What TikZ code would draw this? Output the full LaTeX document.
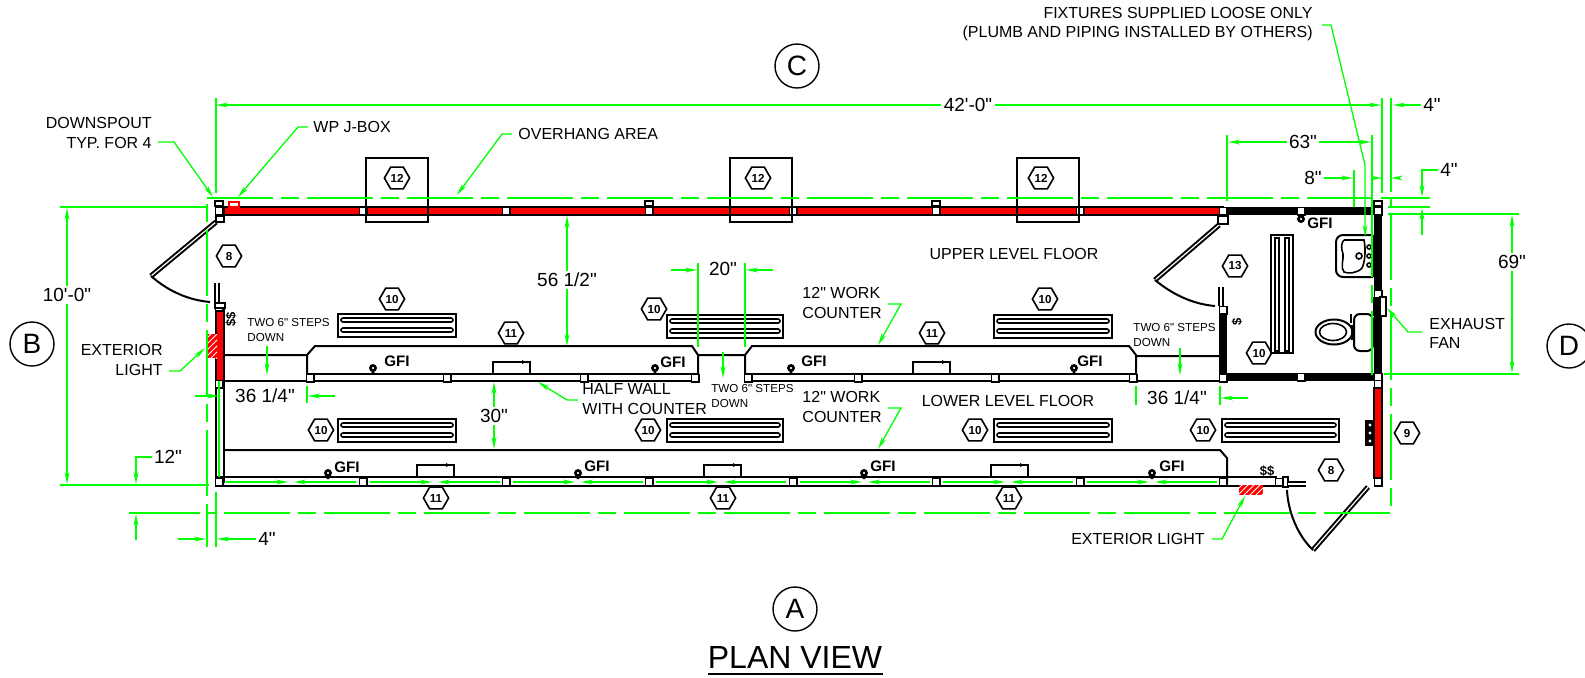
\documentclass[tikz,border=0pt]{standalone}
\usepackage{fontspec}
\setmainfont{Liberation Sans}[Ligatures=TeXOff]
\usetikzlibrary{
	arrows.meta,
	calc,
	patterns,
	shapes.geometric
}
\newcommand{\lblfont}{\fontsize{8}{9.6}\selectfont}
\newcommand{\dimfont}{\fontsize{9.5}{11}\selectfont}
\newcommand{\stepfont}{\fontsize{5.8}{7.2}\selectfont}
\tikzset{
	wall/.style={draw=black, line width=1pt},
	redwall/.style={draw=black, fill=red, line width=.8pt},
	bathwall/.style={draw=black, line width=4pt},
	post/.style={draw=black, fill=white, line width=.9pt, rectangle, minimum size=3.6pt, inner sep=0pt},
	doorleaf/.style={draw=black, double=white, double distance=.6pt, line width=1pt},
	dimline/.style={draw=green, line width=.65pt},
	overhang/.style={draw=green, line width=.75pt, dash pattern=on 33pt off 4pt on 9pt off 4pt},
	lbl/.style={font=\lblfont, inner sep=0pt},
	dimlbl/.style={font=\dimfont, inner sep=1pt},
	steplbl/.style={font=\stepfont, inner sep=0pt, align=left, anchor=west},
	gfi/.style={font=\fontsize{7.6}{9}\selectfont\bfseries, inner sep=0pt},
	tag/.style={draw=black, line width=.8pt, regular polygon, regular polygon sides=6, minimum size=12.6pt, inner sep=0pt, font=\fontsize{5.8}{6}\selectfont\bfseries},
	sheet/.style={draw=black, line width=.7pt, circle, minimum size=22pt, inner sep=0pt, font=\fontsize{14}{16}\selectfont}
}
\begin{document}
\begin{tikzpicture}[x=.5pt, y=-.5pt, >={Stealth[length=6pt,width=2.4pt]}]
	\useasboundingbox (0,0) rectangle (1585,677);
	
	% Outer walls
	\draw[redwall] (224,207) rectangle (1223,215);
	\draw[redwall] (216,307) rectangle (224,381);
	\draw[redwall] (1374,388) rectangle (1382,478);
	\draw[wall] (216,381) rectangle (224,482);
	\draw[wall] (216,477) -- (1277,477) (216,486) -- (1277,486);
	\draw[bathwall] (1223,211) -- (1378,211) -- (1378,377) -- (1223,377) -- (1223,310);
	
	% Half wall and counters
	\draw[wall] (224,381) -- (698,381) (745,381) -- (1223,381);
	\draw[wall] (307,374) -- (698,374) (745,374) -- (1136,374);
	\draw[wall] (224,355) -- (307,355) (307,381) -- (307,355) -- (315,346) -- (692,346) -- (698,355) -- (698,381);
	\draw[wall] (698,355) -- (745,355) (745,381) -- (745,355) -- (752,346) -- (1129,346) -- (1136,355) -- (1136,381) (1136,356) -- (1223,356);
	\draw[wall] (224,450) -- (1220,450) -- (1227,458) -- (1227,482);
	
	% Posts
	\foreach \x [count=\n] in {219,363,506,649,793,936,1080,1223}
		\node[post] (top\n) at (\x,211) {};
	\foreach \x [count=\n] in {219,363,506,649,793,936,1080,1223,1279}
		\node[post] (low\n) at (\x,482) {};
	\foreach \x [count=\n] in {310,447,584,695,748,858,995,1133,1223}
		\node[post] (mid\n) at (\x,378) {};
	\foreach \x/\y [count=\n] in {1301/211,1378/211,1378/294,1301/377,1378/377,1378/384,1378/482,219/307,219/384,1223/310}
		\node[post] (bath\n) at (\x,\y) {};
	\foreach \x [count=\n] in {219,649,936,1378}
		\draw[wall, line width=.8pt, fill=white] (\x-4,201) rectangle (\x+4,206);
	\draw[red, line width=.9pt, fill=white] (229,202) rectangle (239,207);
	
	% Canopy boxes
	\foreach \x in {366,730,1017}
		\draw[wall] (\x,158) rectangle ++(62,64);
	
	% Doors
	\draw[doorleaf] (216,222) -- (151,276);
	\draw[wall] (151,276) .. controls (168,291) and (188,300) .. (210,302);
	\draw[doorleaf] (217,283) -- (217,302);
	\draw[wall, fill=white] (215,303) rectangle (225,308);
	\draw[wall, fill=white] (216,222) rectangle (224,216);
	\draw[doorleaf] (1219,225) -- (1155,280);
	\draw[wall] (1155,280) .. controls (1172,294) and (1192,304) .. (1215,306);
	\draw[doorleaf] (1221,287) -- (1221,306);
	\draw[wall, fill=white] (1218,216) rectangle (1228,224);
	\draw[doorleaf] (1368,487) -- (1313,550);
	\draw[wall] (1313,550) .. controls (1298,536) and (1288,512) .. (1287,490);
	\draw[wall, fill=white] (1283,477) rectangle (1288,487);
	\draw[doorleaf] (1288,484) -- (1306,484);
	
	% Benches
	\foreach \x/\y/\w in {338/314/118,667/315/116,994/315/118,338/419/118,667/419/116,994/419/118,1222/419/117}{
		\draw[wall] (\x,\y) rectangle ++(\w,23);
		\draw[wall, line width=.8pt, rounded corners=1pt] (\x+3,\y+4) rectangle ++(\w-6,4);
		\draw[wall, line width=.8pt, rounded corners=1pt] (\x+3,\y+14) rectangle ++(\w-6,4);
	}
	\draw[wall] (1271,235) rectangle (1293,353);
	\draw[wall, line width=.8pt] (1275,238) rectangle (1279,351);
	\draw[wall, line width=.8pt] (1285,238) rectangle (1289,351);
	
	% Sink blocks on the counters
	\foreach \x/\y in {493/362,913/362,417/465,704/465,991/465}{
		\draw[wall, line width=.9pt] (\x,\y+12) -- (\x,\y) -- (\x+37,\y) -- (\x+37,\y+12);
		\fill (\x+29,\y-2) -- (\x+33,\y) -- (\x+29,\y+2) -- cycle;
	}
	
	% Receptacles
	\foreach \x/\y/\tx/\ty [count=\n] in {373/368/397/361,655/368/673/362,791/368/814/361,1074/368/1090/361,328/473/347/467,578/473/597/466,864/473/883/466,1152/473/1172/466}{
		\draw[wall, line width=1.3pt] (\x,\y) circle (2.6) (\x,\y+3) -- (\x,\y+6);
		\node[gfi] (gfi\n) at (\tx,\ty) {GFI};
	}
	\draw[wall, line width=1.3pt] (1301,219) circle (2.6);
	\draw[wall, line width=1.1pt] (1301,214) -- (1301,216);
	\node[gfi] (gfibath) at (1320,223) {GFI};
	
	% Switches
	\node[font=\fontsize{6.5}{7}\selectfont\bfseries, rotate=90, inner sep=0pt] (swleft) at (231,319) {\$\$};
	\node[font=\fontsize{6.5}{7}\selectfont\bfseries, rotate=90, inner sep=0pt] (swbath) at (1237,322) {\$};
	\node[font=\fontsize{6.5}{7}\selectfont\bfseries, inner sep=0pt] (swlow) at (1267,471) {\$\$};
	
	% Sink and toilet
	\draw[wall, rounded corners=3.5pt] (1373,235) -- (1336,235) -- (1336,277) -- (1373,277);
	\draw[wall] (1373,235) -- (1373,277);
	\draw[wall, line width=.8pt] (1344,240) -- (1364,240) .. controls (1366,250) and (1365,262) .. (1362,268) .. controls (1358,273) and (1348,274) .. (1344,272) .. controls (1340,268) and (1344,258) .. (1343,254) .. controls (1341,248) and (1341,243) .. (1344,240);
	\draw[wall, line width=.8pt] (1359,256) circle (3);
	\foreach \y in {247,256,265}
		\draw[wall, line width=.8pt] (1369,\y) circle (2);
	\draw[wall, rounded corners=3pt] (1354,314) rectangle (1373,351);
	\draw[wall, line width=1.3pt] (1351,314) -- (1351,323);
	\draw[wall] (1334,332) ellipse (18.5 and 12.5);
	\draw[wall, line width=.8pt] (1333,332) ellipse (13.5 and 8.5);
	\draw[wall] (1352,325) -- (1352,340);
	
	% Exhaust fan and panel
	\fill (1373,297) rectangle (1380,316);
	\draw[wall, fill=white] (1380,297) rectangle (1386,316);
	\fill (1365,420) rectangle (1375,446);
	\foreach \y in {425,433,441}
		\fill[white] (1370,\y) circle (1.6);
	
	% Exterior lights
	\fill[red] (207,334) rectangle (217,358);
	\fill[pattern=north east lines, pattern color=white] (207,334) rectangle (217,358);
	\fill[red] (1239,485) rectangle (1263,495);
	\fill[pattern=north east lines, pattern color=white] (1239,485) rectangle (1263,495);
	
	% Tags
	\node[tag] (twelveA) at (397,178) {12};
	\node[tag] (twelveB) at (758,178) {12};
	\node[tag] (twelveC) at (1041,178) {12};
	\node[tag] (doorA) at (229,256) {8};
	\node[tag] (doorB) at (1331,470) {8};
	\node[tag] (panel) at (1407,433) {9};
	\node[tag] (bath) at (1235,266) {13};
	\node[tag] (counterA) at (511,333) {11};
	\node[tag] (counterB) at (932,333) {11};
	\node[tag] (counterC) at (436,498) {11};
	\node[tag] (counterD) at (723,498) {11};
	\node[tag] (counterE) at (1009,498) {11};
	\foreach \x/\y [count=\n] in {392/299,654/309,1045/299,1259/353,321/430,648/430,975/430,1203/430}
		\node[tag] (bench\n) at (\x,\y) {10};
	
	% Sheet markers
	\node[sheet] (markC) at (797,66) {C};
	\node[sheet] (markB) at (32,344) {B};
	\node[sheet] (markD) at (1569,346) {D};
	\node[sheet] (markA) at (795,609) {A};
	\node[font=\fontsize{16}{18}\selectfont, inner sep=0pt] (title) at (795,657) {PLAN VIEW};
	\draw[line width=.9pt] (708,674) -- (883,674);
	
	% Overhang outline
	\draw[overhang] (207,198) -- (1391,198) -- (1391,513) -- (207,513) -- cycle;
	\draw[overhang] (1372,211) -- (1372,375);
	\draw[dimline] (207,513) -- (207,547);
	
	% Room names and notes
	\node[lbl] (upper) at (1014,254) {UPPER LEVEL FLOOR};
	\node[lbl] (lower) at (1008,401) {LOWER LEVEL FLOOR};
	\node[lbl, anchor=east, align=right] (spout) at (152,133) {DOWNSPOUT\\TYP. FOR 4};
	\node[lbl, anchor=west] (jbox) at (313,127) {WP J-BOX};
	\node[lbl, anchor=west] (over) at (518,134) {OVERHANG AREA};
	\node[lbl, anchor=east, align=right] (lightA) at (163,360) {EXTERIOR\\LIGHT};
	\node[lbl, anchor=east] (lightB) at (1205,539) {EXTERIOR LIGHT};
	\node[lbl, anchor=west, align=left] (fan) at (1429,333) {EXHAUST\\FAN};
	\node[lbl, anchor=east, align=right] (fixt) at (1313,24) {FIXTURES SUPPLIED LOOSE ONLY\\(PLUMB AND PIPING INSTALLED BY OTHERS)};
	\node[lbl, anchor=west, align=left] (halfw) at (582,399) {HALF WALL\\WITH COUNTER};
	\node[lbl, anchor=east, align=left] (workA) at (882,303) {12" WORK\\COUNTER};
	\node[lbl, anchor=east, align=left] (workB) at (882,407) {12" WORK\\COUNTER};
	\node[steplbl] (stepA) at (247,330) {TWO 6" STEPS\\DOWN};
	\node[steplbl] (stepB) at (711,396) {TWO 6" STEPS\\DOWN};
	\node[steplbl] (stepC) at (1133,335) {TWO 6" STEPS\\DOWN};
	
	% Leaders
	\draw[dimline,->] ($(spout.east)+(6,9)$) -- (174,142) -- (213,197);
	\draw[dimline,->] ($(jbox.west)+(-5,0)$) -- (298,127) -- (238,197);
	\draw[dimline,->] ($(over.west)+(-6,0)$) -- (502,134) -- (457,195);
	\draw[dimline,->] ($(lightA.east)+(6,11)$) -- (180,371) -- (205,348);
	\draw[dimline,->] ($(lightB.east)+(7,0)$) -- (1222,539) -- (1245,496);
	\draw[dimline,->] ($(fan.west)+(-7,-1)$) -- (1408,332) -- (1387,308);
	\draw[dimline,->] ($(fixt.east)+(9,1)$) -- (1331,25) -- (1365,165) -- (1365,237);
	\draw[dimline,->] ($(halfw.west)+(-4,1)$) -- (567,400) -- (538,382);
	\draw[dimline,->] ($(workA.east)+(6,1)$) -- (901,304) -- (878,345);
	\draw[dimline,->] ($(workB.east)+(6,1)$) -- (901,408) -- (878,449);
	\draw[dimline,->] (267,346) -- (267,375);
	\draw[dimline,->] (723,352) -- (723,378);
	\draw[dimline,->] (1180,348) -- (1180,375);
	
	% Dimensions across the top
	\node[dimlbl] (dimlen) at (968,105) {42'-0"};
	\draw[dimline,->] (dimlen.west) -- (216,105);
	\draw[dimline,->] (dimlen.east) -- (1381,105);
	\draw[dimline] (216,98) -- (216,193) (1382,98) -- (1382,193) (1391,98) -- (1391,192);
	\node[dimlbl] (dimtopA) at (1432,105) {4"};
	\draw[dimline,->] (dimtopA.west) -- (1393,105);
	\node[dimlbl] (dimbath) at (1303,142) {63"};
	\draw[dimline,->] (dimbath.west) -- (1228,142);
	\draw[dimline,->] (dimbath.east) -- (1371,142);
	\draw[dimline] (1227,135) -- (1227,201) (1372,135) -- (1372,211);
	\node[dimlbl] (dimsink) at (1313,178) {8"};
	\draw[dimline,->] (dimsink.east) -- (1353,178);
	\draw[dimline] (1354,170) -- (1354,207);
	\draw[dimline,->] (1375,178) -- (1382,178);
	\draw[dimline,->] (1400,178) -- (1391,178);
	\node[dimlbl] (dimtopB) at (1449,170) {4"};
	\draw[dimline,->] (dimtopB.west) -- (1422,170) -- (1422,197);
	\draw[dimline,->] (1422,235) -- (1422,208);
	\draw[dimline] (1391,198) -- (1430,198) (1388,207) -- (1430,207) (1388,214) -- (1519,214);
	
	% Dimensions on the right
	\node[dimlbl] (dimrm) at (1512,262) {69"};
	\draw[dimline,->] (dimrm.north) -- (1512,215);
	\draw[dimline,->] (dimrm.south) -- (1512,373);
	\draw[dimline] (1384,374) -- (1519,374);
	
	% Dimensions on the left
	\node[dimlbl] (dimwid) at (67,295) {10'-0"};
	\draw[dimline,->] (dimwid.north) -- (67,208);
	\draw[dimline,->] (dimwid.south) -- (67,484);
	\draw[dimline] (60,207) -- (208,207) (60,485) -- (209,485);
	\node[dimlbl] (dimlowA) at (168,457) {12"};
	\draw[dimline,->] (dimlowA.west) -- (136,457) -- (136,484);
	\draw[dimline,->] (136,540) -- (136,514);
	\draw[dimline] (129,513) -- (200,513);
	\node[dimlbl] (dimlowB) at (267,539) {4"};
	\draw[dimline,->] (178,539) -- (206,539);
	\draw[dimline,->] (dimlowB.west) -- (217,539);
	\draw[dimline] (216,492) -- (216,547);
	\draw[dimline] (219,381) -- (219,477);
	
	% Dimensions at the half wall
	\node[dimlbl] (dimrailA) at (265,396) {36 1/4"};
	\draw[dimline,->] (195,396) -- (219,396);
	\draw[dimline,->] (335,396) -- (308,396);
	\draw[dimline] (307,386) -- (307,403);
	\node[dimlbl] (dimrailB) at (1177,398) {36 1/4"};
	\draw[dimline,->] (1248,398) -- (1221,398);
	\draw[dimline] (1136,386) -- (1136,405) (1220,386) -- (1220,405);
	\node[dimlbl] (dimup) at (567,280) {56 1/2"};
	\draw[dimline,->] (dimup.north) -- (567,216);
	\draw[dimline,->] (dimup.south) -- (567,346);
	\node[dimlbl] (dimlw) at (494,416) {30"};
	\draw[dimline,->] (dimlw.north) -- (494,382);
	\draw[dimline,->] (dimlw.south) -- (494,449);
	\node[dimlbl] (dimgap) at (723,269) {20"};
	\draw[dimline,->] (671,270) -- (697,270);
	\draw[dimline,->] (773,270) -- (746,270);
	\draw[dimline] (698,263) -- (698,347) (745,263) -- (745,347);
	
	% Arrows along the lower wall
	\foreach \x in {226,370,513,656,800,943,1087}{
		\draw[dimline,->] (\x,482) -- (\x+62,482);
		\draw[dimline,->] (\x+130,482) -- (\x+68,482);
	}
\end{tikzpicture}
\end{document}
